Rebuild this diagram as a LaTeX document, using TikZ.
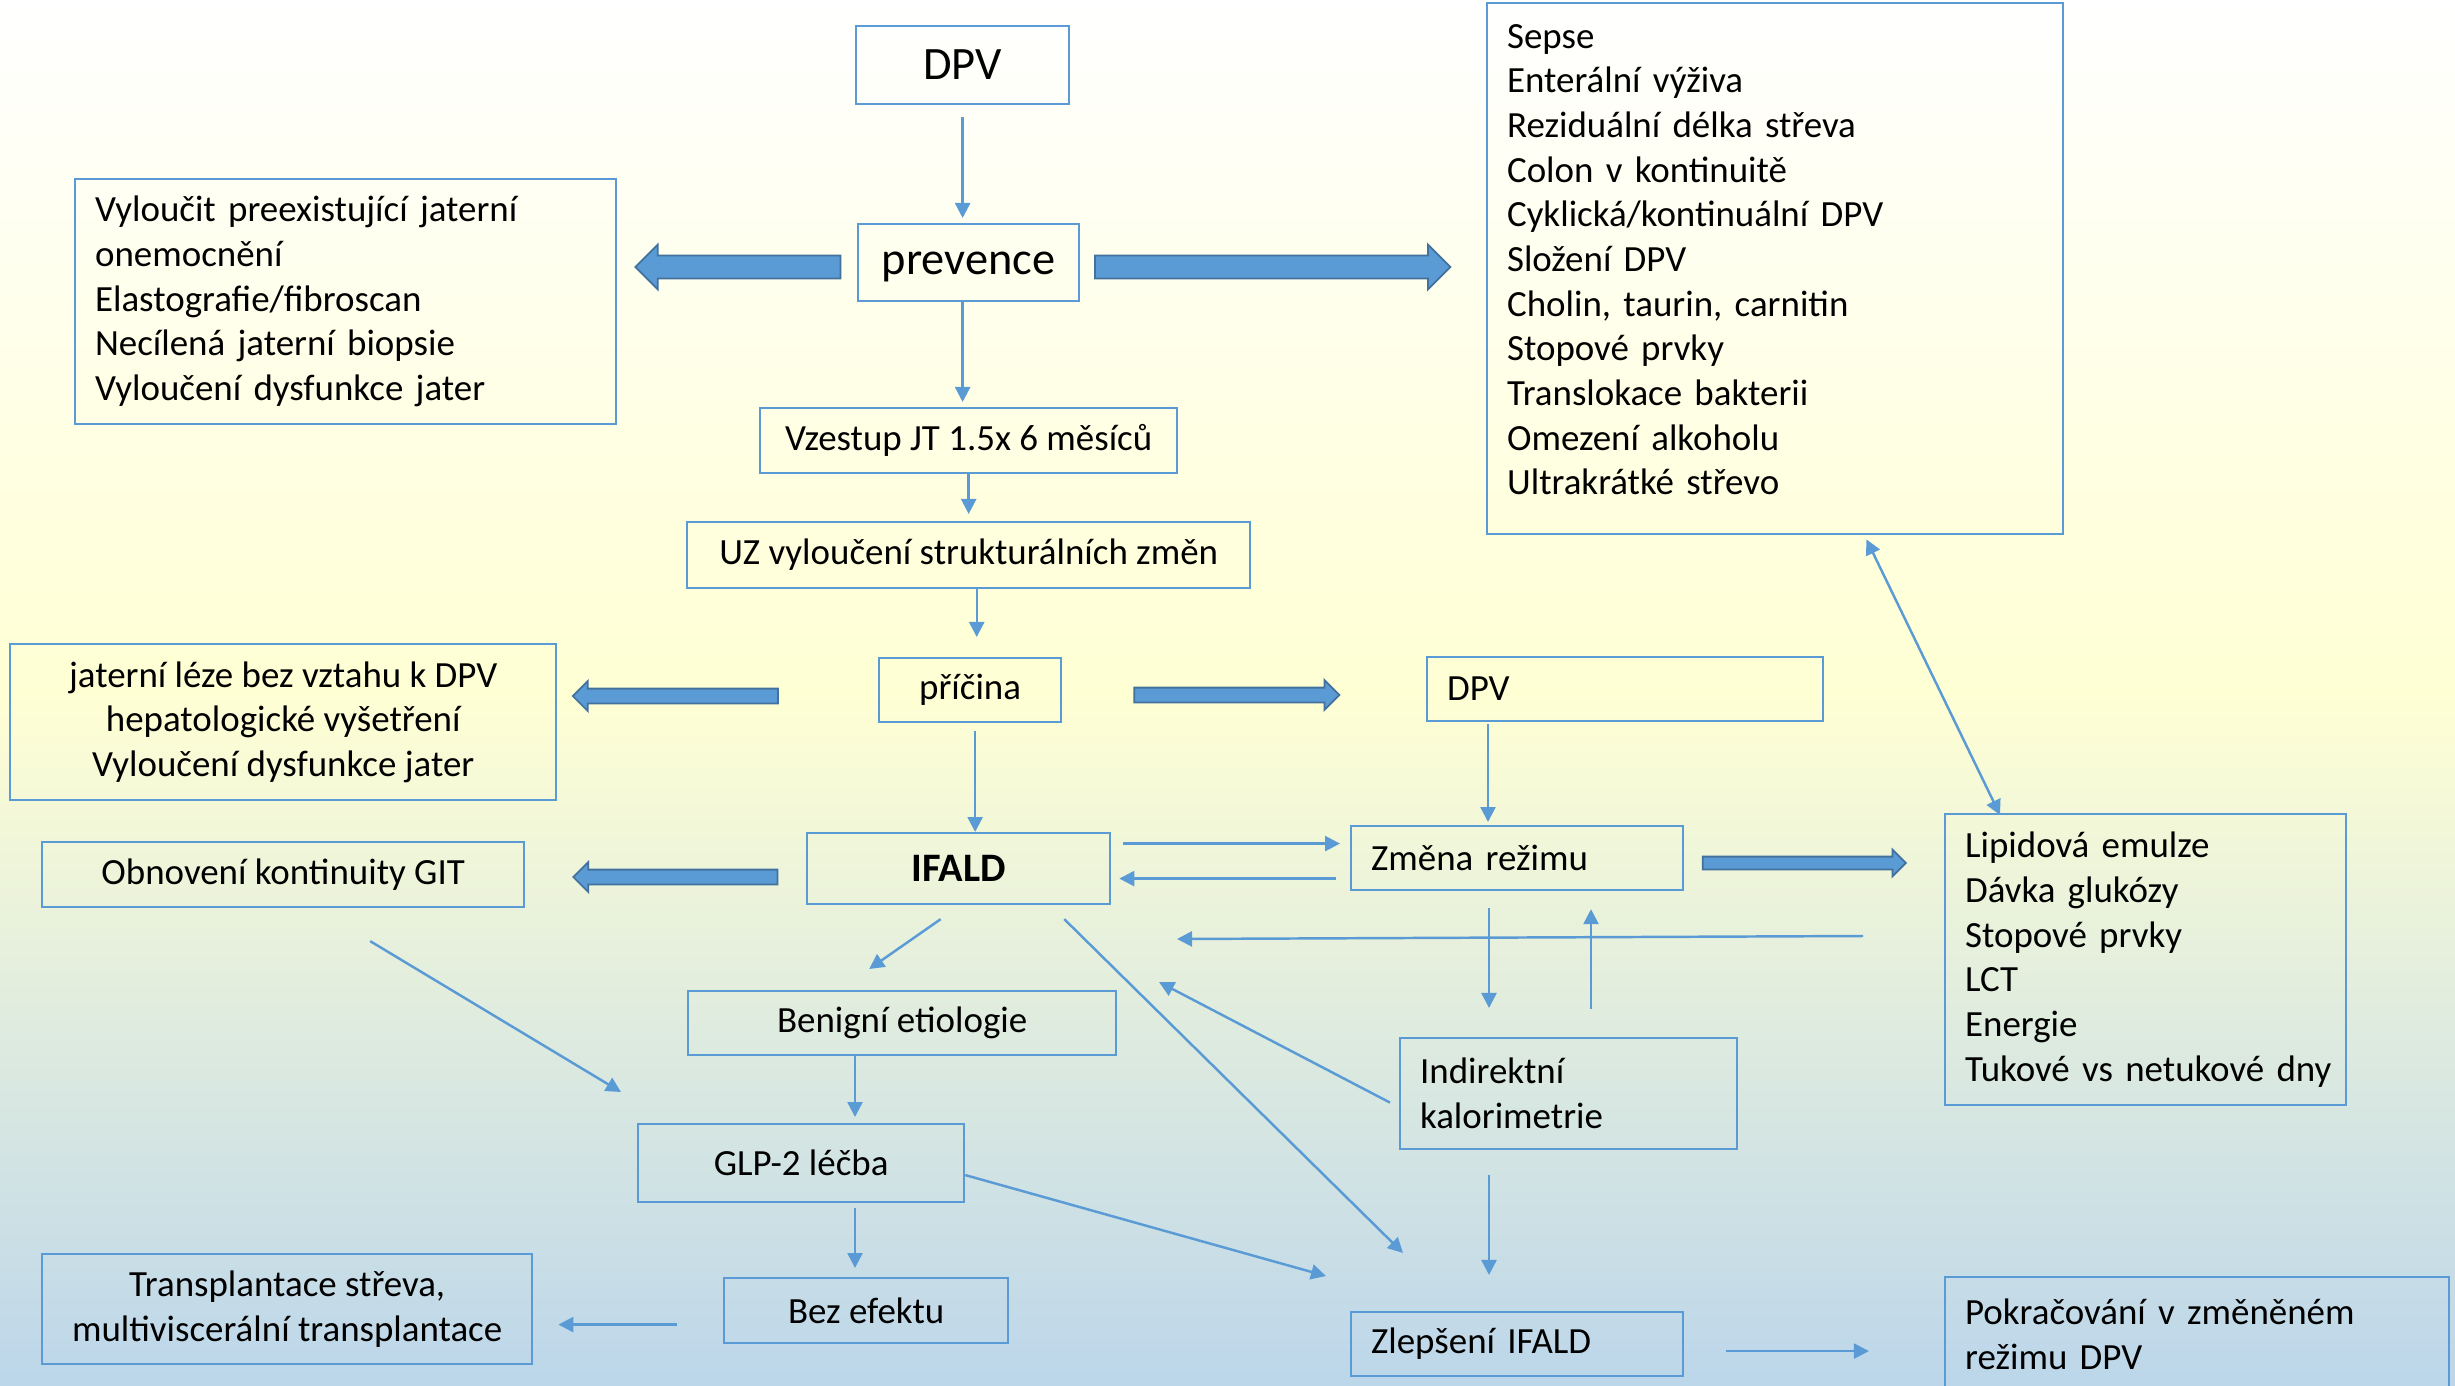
\documentclass[tikz,border=0pt]{standalone}
\usepackage{fontspec}
\setmainfont{Carlito}
\usetikzlibrary{arrows.meta, calc, shapes.arrows}

\definecolor{boxblue}{HTML}{5B9BD5}
\definecolor{fatblue}{HTML}{5B9BD5}
\definecolor{fatedge}{HTML}{41719C}
\definecolor{bgtop}{HTML}{FFFFFF}
\definecolor{bgmid}{HTML}{FFFFD4}
\definecolor{bgbot}{HTML}{BCD6EA}

\begin{document}
\begin{tikzpicture}[x=0.01cm, y=-0.01cm,
    every node/.style={font=\fontsize{10.5}{12.7}\selectfont, inner sep=0pt},
    box/.style={draw=boxblue, line width=0.6pt, anchor=north west, align=center},
    lbox/.style={box, align=left, inner xsep=0.2cm},
    conn/.style={draw=boxblue, line width=0.7pt, -{Triangle[length=0.15cm, width=0.15cm]}},
    conn2/.style={conn, {Triangle[length=0.15cm, width=0.15cm]}-{Triangle[length=0.15cm, width=0.15cm]}},
    fatbig/.style={single arrow, draw=fatedge, fill=fatblue, line width=0.5pt, text height=0.21cm, text depth=0pt, single arrow head extend=0.11cm},
    fatsmall/.style={single arrow, draw=fatedge, fill=fatblue, line width=0.5pt, text height=0.13cm, text depth=0pt, single arrow head extend=0.075cm},
    fatthin/.style={single arrow, draw=fatedge, fill=fatblue, line width=0.5pt, text height=0.11cm, text depth=0pt, single arrow head extend=0.07cm}
]
    % Background
    \useasboundingbox (0,0) rectangle (2455,1385);
    \shade[top color=bgtop, bottom color=bgbot, middle color=bgmid] (0,0) rectangle (2455,1385);

    % Main column
    \node[box, minimum width=2.13cm, minimum height=0.78cm, font=\fontsize{13.2}{16}\selectfont] (dpv) at (855,25) {DPV};
    \node[box, minimum width=2.21cm, minimum height=0.77cm, text height=9pt, text depth=2pt, font=\fontsize{13.2}{16}\selectfont] (prev) at (857,223) {prevence};
    \node[box, minimum width=4.17cm, minimum height=0.65cm] (vze) at (759,407) {Vzestup JT 1.5x 6 měsíců};
    \node[box, minimum width=5.63cm, minimum height=0.66cm] (uz) at (686,521) {UZ vyloučení strukturálních změn};
    \node[box, minimum width=1.82cm, minimum height=0.64cm] (pri) at (878,657) {příčina};
    \node[box, minimum width=3.03cm, minimum height=0.71cm, font=\fontsize{11.5}{14}\selectfont\bfseries] (ifald) at (806,832) {IFALD};
    \node[box, minimum width=4.28cm, minimum height=0.64cm] (ben) at (687,990) {Benigní etiologie};
    \node[box, minimum width=3.26cm, minimum height=0.78cm] (glp) at (637,1123) {GLP-2 léčba};
    \node[box, minimum width=2.84cm, minimum height=0.65cm] (bez) at (723,1277) {Bez efektu};

    % Left side
    \node[lbox, text width=5.01cm, minimum height=2.45cm] (vyl) at (74,178) {Vyloučit preexistující jaterní\\onemocnění\\Elastografie/fibroscan\\Necílená jaterní biopsie\\Vyloučení dysfunkce jater};
    \node[box, minimum width=5.46cm, minimum height=1.56cm] (jat) at (9,643) {jaterní léze bez vztahu k DPV\\hepatologické vyšetření\\Vyloučení dysfunkce jater};
    \node[box, minimum width=4.82cm, minimum height=0.65cm] (obn) at (41,841) {Obnovení kontinuity GIT};
    \node[box, minimum width=4.90cm, minimum height=1.10cm] (tra) at (41,1253) {Transplantace střeva,\\multiviscerální transplantace};

    % Right side
    \node[lbox, text width=5.36cm, minimum height=5.31cm, text depth=4.65cm] (sep) at (1486,2) {Sepse\\Enterální výživa\\Reziduální délka střeva\\Colon v kontinuitě\\Cyklická/kontinuální DPV\\Složení DPV\\Cholin, taurin, carnitin\\Stopové prvky\\Translokace bakterii\\Omezení alkoholu\\Ultrakrátké střevo};
    \node[lbox, text width=3.56cm, minimum height=0.64cm] (dpvr) at (1426,656) {DPV};
    \node[lbox, text width=2.92cm, minimum height=0.64cm] (zmena) at (1350,825) {Změna režimu};
    \node[lbox, text width=3.61cm, minimum height=2.91cm] (lip) at (1944,813) {Lipidová emulze\\Dávka glukózy\\Stopové prvky\\LCT\\Energie\\\mbox{Tukové vs netukové dny}};
    \node[lbox, text width=2.97cm, minimum height=1.11cm] (ind) at (1399,1037) {Indirektní\\kalorimetrie};
    \node[lbox, text width=2.92cm, minimum height=0.64cm] (zle) at (1350,1311) {Zlepšení IFALD};
    \node[lbox, text width=4.64cm, minimum height=1.14cm] (pok) at (1944,1276) {Pokračování v změněném\\režimu DPV};

    % Thick arrows
    \node[fatbig, minimum height=2.05cm, shape border rotate=180] (pl) at (743.5,267) {};
    \node[fatbig, minimum height=3.55cm] (pr) at (1267,267) {};
    \node[fatsmall, minimum height=2.05cm, shape border rotate=180] (ql) at (679,696) {};
    \node[fatsmall, minimum height=2.05cm] (qr) at (1233,695) {};
    \node[fatsmall, minimum height=2.04cm, shape border rotate=180] (il) at (679,877) {};
    \node[fatthin, minimum height=2.03cm] (zr) at (1801,863) {};

    % Free ends
    \coordinate (kal) at (1159,982);
    \coordinate (lipl) at (1863,936);
    \coordinate (zpet) at (1177,939);
    \coordinate (glpl) at (621,1092);

    % Main column arrows
    \draw[conn, shorten <=0.12cm, shorten >=0.05cm] (dpv.south) -- (dpv.south |- prev.north);
    \draw[conn, shorten >=0.05cm] (dpv.south |- prev.south) -- (dpv.south |- vze.north);
    \draw[conn, shorten >=0.07cm] (vze.south) -- (vze.south |- uz.north);
    \draw[conn, shorten >=0.2cm] ($(uz.south)+(8,0)$) -- ($(uz.south |- pri.north)+(8,0)$);
    \draw[conn, shorten <=0.08cm] ($(pri.south)+(5,0)$) -- ($(pri.south |- ifald.north)+(5,0)$);

    % IFALD and Zmena rezimu
    \draw[conn, shorten <=0.12cm, shorten >=0.1cm] ($(ifald.east)+(0,-25)$) -- ($(ifald.east -| zmena.west)+(0,-25)$);
    \draw[conn, shorten <=0.14cm, shorten >=0.08cm] ($(zmena.west |- ifald.east)+(0,10)$) -- ($(ifald.east)+(0,10)$);
    \draw[conn, shorten <=0.02cm, shorten >=0.03cm] ($(dpvr.south west)+(62,0)$) -- ($(dpvr.south west |- zmena.north)+(62,0)$);
    \draw[conn, shorten <=0.17cm, shorten >=0.29cm] ($(zmena.south west)+(139,0)$) -- ($(zmena.south west |- ind.north)+(139,0)$);
    \draw[conn, shorten <=0.28cm, shorten >=0.18cm] ($(ind.north west)+(192,0)$) -- ($(ind.north west |- zmena.south)+(192,0)$);
    \draw[conn, shorten <=0.25cm, shorten >=0.36cm] ($(ind.south west)+(90,0)$) -- ($(ind.south west |- zle.north)+(90,0)$);
    \draw[conn] ($(ind.west)+(-9,9)$) -- (kal);
    \draw[conn] (lipl) -- (zpet);
    \draw[conn2] ($(sep.south east)+(-198,4)$) -- ($(lip.north west)+(56,2)$);

    % Lower part
    \draw[conn] ($(ifald.south east)+(-47,14)$) -- ($(zle.north west)+(53,-58)$);
    \draw[conn] ($(glp.east)+(0,12)$) -- ($(zle.north west)+(-24,-35)$);
    \draw[conn, shorten <=0.42cm, shorten >=0.75cm] ($(zle.east)+(0,7)$) -- ($(zle.east -| pok.west)+(0,7)$);
    \draw[conn] ($(ifald.south)+(-18,14)$) -- ($(ben.north)+(-33,-21)$);
    \draw[conn, shorten >=0.06cm] ($(ben.south west)+(168,0)$) -- ($(ben.south west |- glp.north)+(168,0)$);
    \draw[conn] ($(obn.south)+(87,33)$) -- (glpl);
    \draw[conn, shorten <=0.05cm, shorten >=0.09cm] ($(glp.south west)+(218,0)$) -- ($(glp.south west |- bez.north)+(218,0)$);
    \draw[conn, shorten <=0.46cm, shorten >=0.25cm] ($(bez.west)+(0,14)$) -- ($(bez.west -| tra.east)+(0,14)$);
\end{tikzpicture}
\end{document}
